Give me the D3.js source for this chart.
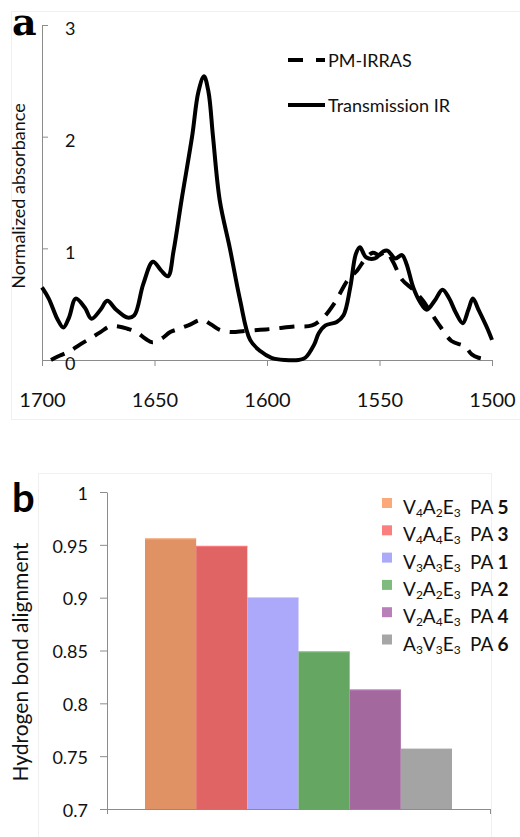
<!DOCTYPE html>
<html>
<head>
<meta charset="utf-8">
<script src="https://cdn.jsdelivr.net/npm/d3@7"></script>
<style>
  body { margin: 0; background: #fff; }
  svg { display: block; }
</style>
</head>
<body>
<div id="chart"></div>
<script>
// panel a: spectra (wavenumber, normalized absorbance)
const transmissionIR = [
  [1700, 0.65], [1697, 0.55], [1693, 0.36], [1690.5, 0.29], [1688, 0.38], [1685, 0.55],
  [1681, 0.47], [1678, 0.37], [1674, 0.45], [1671, 0.53], [1667, 0.45], [1662, 0.38],
  [1659, 0.40], [1655, 0.68], [1650.7, 0.88], [1647, 0.80], [1644, 0.75], [1641.5, 0.98],
  [1638, 1.43], [1633.3, 2.0], [1630.5, 2.4], [1628, 2.54], [1626, 2.4], [1624, 2.0],
  [1621, 1.43], [1616.5, 1.0], [1612, 0.54], [1607.5, 0.18], [1603, 0.08], [1598, 0.02],
  [1592, 0.0], [1586, 0.0], [1583, 0.02], [1579, 0.14], [1577, 0.24], [1574, 0.31],
  [1569, 0.34], [1566, 0.40], [1563, 0.65], [1560.5, 0.95], [1558.7, 1.01], [1556, 0.92],
  [1552, 0.91], [1548.5, 0.97], [1546.5, 0.98], [1543, 0.91], [1540, 0.94], [1538, 0.86],
  [1535, 0.65], [1532, 0.52], [1529, 0.45], [1525.5, 0.53], [1522, 0.63], [1519, 0.55],
  [1516, 0.42], [1513, 0.33], [1510.5, 0.45], [1508.5, 0.55], [1506, 0.45], [1502, 0.28],
  [1500, 0.18]
];
const pmIRRAS = [
  [1696, 0.0], [1692, 0.04], [1687.5, 0.08], [1683, 0.14], [1678, 0.2], [1674, 0.25],
  [1670, 0.3], [1666, 0.30], [1662, 0.28], [1658, 0.25], [1654, 0.19], [1651, 0.16],
  [1647, 0.19], [1643, 0.25], [1639, 0.28], [1635, 0.31], [1629, 0.36], [1625, 0.32],
  [1621, 0.27], [1616, 0.25], [1610, 0.26], [1603, 0.27], [1597, 0.28], [1588, 0.30],
  [1580, 0.31], [1575, 0.38], [1570, 0.51], [1564, 0.72], [1560, 0.80], [1556.5, 0.9],
  [1553, 0.96], [1550, 0.94], [1547, 0.97], [1544, 0.88], [1540, 0.72], [1535, 0.63],
  [1531, 0.54], [1527, 0.42], [1523, 0.30], [1518, 0.17], [1512, 0.12], [1509, 0.05],
  [1506, 0.02], [1503, 0.01], [1501, 0.02]
];
const xTicksA = [1700, 1650, 1600, 1550, 1500];
const yTicksA = [0, 1, 2, 3];

// panel b: hydrogen bond alignment
const peptides = [
  { seq: [["V", "4"], ["A", "2"], ["E", "3"]], pa: "5" },
  { seq: [["V", "4"], ["A", "4"], ["E", "3"]], pa: "3" },
  { seq: [["V", "3"], ["A", "3"], ["E", "3"]], pa: "1" },
  { seq: [["V", "2"], ["A", "2"], ["E", "3"]], pa: "2" },
  { seq: [["V", "2"], ["A", "4"], ["E", "3"]], pa: "4" },
  { seq: [["A", "3"], ["V", "3"], ["E", "3"]], pa: "6" }
];
const alignment = [0.956, 0.949, 0.900, 0.849, 0.813, 0.757];
const barColors = ["#e19264", "#e16464", "#aca8fa", "#64a662", "#a3689e", "#a4a4a4"];
const swatchColors = ["#fba97a", "#fb7f7f", "#aaaaf8", "#7fbb7f", "#b87fb8", "#a6a6a6"];
const yTicksB = [0.7, 0.75, 0.8, 0.85, 0.9, 0.95, 1];

const W = 520, H = 837;
const font = "Lato, 'Open Sans', sans-serif";
const axisGray = "#8c8c8c";

const svg = d3.select("#chart").append("svg")
  .attr("width", W)
  .attr("height", H);

// faint panel frames
svg.append("rect")
  .attr("x", 11.5).attr("y", 11.5).attr("width", 530).attr("height", 408)
  .attr("fill", "none").attr("stroke", "#f0f0f0");
svg.append("rect")
  .attr("x", 38.5).attr("y", 473.5).attr("width", 453).attr("height", 400)
  .attr("fill", "none").attr("stroke", "#f0f0f0");

// ---------- panel a ----------
const xA = d3.scaleLinear().domain([1700, 1500]).range([42, 492]);
const yA = d3.scaleLinear().domain([0, 3]).range([360, 25]);

const gA = svg.append("g");

const xAxisA = gA.append("g")
  .attr("transform", `translate(0,${yA(0)})`)
  .call(d3.axisBottom(xA).tickValues(xTicksA).tickSize(6).tickSizeOuter(0).tickFormat(d3.format("d")));
xAxisA.selectAll("text")
  .attr("y", 47).attr("dy", 0)
  .attr("font-size", "20px").attr("font-family", font).attr("fill", "#111");

const yAxisA = gA.append("g")
  .attr("transform", `translate(${xA(1700)},0)`)
  .call(d3.axisRight(yA).tickValues(yTicksA).tickSize(6).tickSizeOuter(0).tickPadding(17).tickFormat(d3.format("d")));
yAxisA.selectAll("text")
  .attr("dy", "0.55em")
  .attr("font-size", "18px").attr("font-family", font).attr("fill", "#111");

[xAxisA, yAxisA].forEach(ax => {
  ax.select(".domain").attr("stroke", axisGray);
  ax.selectAll(".tick line").attr("stroke", axisGray);
});

const lineA = d3.line()
  .x(d => xA(d[0]))
  .y(d => yA(d[1]))
  .curve(d3.curveCatmullRom.alpha(0.5));

gA.append("path")
  .datum(pmIRRAS)
  .attr("d", lineA)
  .attr("fill", "none")
  .attr("stroke", "#000")
  .attr("stroke-width", 4)
  .attr("stroke-dasharray", "15 10");

gA.append("path")
  .datum(transmissionIR)
  .attr("d", lineA)
  .attr("fill", "none")
  .attr("stroke", "#000")
  .attr("stroke-width", 4)
  .attr("stroke-linejoin", "round");

gA.append("text")
  .attr("transform", "translate(25,196) rotate(-90)")
  .attr("text-anchor", "middle")
  .attr("font-size", "18px").attr("font-family", font).attr("fill", "#111")
  .text("Normalized absorbance");

gA.append("text")
  .attr("x", 12).attr("y", 35)
  .attr("font-size", "38px").attr("font-weight", "bold")
  .attr("font-family", "'DejaVu Serif', serif")
  .text("a");

// legend a
const legA = gA.append("g").attr("transform", "translate(288,0)");
[["PM-IRRAS", "15 13", 60], ["Transmission IR", null, 105]].forEach(([label, dash, y]) => {
  legA.append("line")
    .attr("x1", 0).attr("x2", 37).attr("y1", y).attr("y2", y)
    .attr("stroke", "#000").attr("stroke-width", 4)
    .attr("stroke-dasharray", dash);
  legA.append("text")
    .attr("x", 40).attr("y", y + 7)
    .attr("font-size", "18px").attr("font-family", font).attr("fill", "#111")
    .text(label);
});

// ---------- panel b ----------
const yB = d3.scaleLinear().domain([0.7, 1]).range([809, 492]);
const plotL = 107, plotR = 490;
const xB = d3.scaleBand()
  .domain(d3.range(alignment.length))
  .range([plotL + 38, plotR - 38])
  .padding(0);

const gB = svg.append("g");

gB.selectAll("rect.bar")
  .data(alignment)
  .enter()
  .append("rect")
  .attr("class", "bar")
  .attr("x", (d, i) => xB(i))
  .attr("width", xB.bandwidth())
  .attr("y", d => yB(d))
  .attr("height", d => yB(0.7) - yB(d))
  .attr("fill", (d, i) => barColors[i]);

// thin lighter rim on top of each bar
gB.selectAll("line.rim")
  .data(alignment)
  .enter()
  .append("line")
  .attr("x1", (d, i) => xB(i))
  .attr("x2", (d, i) => xB(i) + xB.bandwidth())
  .attr("y1", d => yB(d) + 0.5)
  .attr("y2", d => yB(d) + 0.5)
  .attr("stroke", (d, i) => swatchColors[i])
  .attr("stroke-width", 1);

const yAxisB = gB.append("g")
  .attr("transform", `translate(${plotL},0)`)
  .call(d3.axisLeft(yB).tickValues(yTicksB).tickSize(7).tickSizeOuter(0).tickPadding(12).tickFormat(d => String(d)));
yAxisB.selectAll("text")
  .attr("dy", "0.4em")
  .attr("font-size", "18px").attr("font-family", font).attr("fill", "#111");

const xAxisB = gB.append("g")
  .attr("transform", `translate(0,${yB(0.7)})`)
  .call(d3.axisBottom(d3.scaleLinear().domain([0, 1]).range([plotL, plotR])).tickValues([0, 1]).tickSize(5).tickSizeOuter(0).tickFormat(""));

[xAxisB, yAxisB].forEach(ax => {
  ax.select(".domain").attr("stroke", axisGray);
  ax.selectAll(".tick line").attr("stroke", axisGray);
});

gB.append("text")
  .attr("transform", "translate(28,662) rotate(-90)")
  .attr("text-anchor", "middle")
  .attr("font-size", "21px").attr("font-family", font).attr("fill", "#111")
  .text("Hydrogen bond alignment");

gB.append("text")
  .attr("x", 12).attr("y", 512)
  .attr("font-size", "40px").attr("font-weight", "bold")
  .attr("font-family", font)
  .text("b");

// legend b
const legB = gB.append("g").attr("transform", "translate(382,0)");
peptides.forEach((p, i) => {
  const y = 503 + i * 27.3;
  legB.append("rect")
    .attr("x", 0).attr("y", y - 5).attr("width", 10).attr("height", 10)
    .attr("fill", swatchColors[i]);
  const t = legB.append("text")
    .attr("x", 21).attr("y", y + 11)
    .attr("font-size", "19px").attr("font-family", font).attr("fill", "#111");
  p.seq.forEach(([res, n], k) => {
    t.append("tspan").attr("dy", k === 0 ? 0 : -3).text(res);
    t.append("tspan").attr("font-size", "12px").attr("dy", 3).text(n);
  });
  legB.append("text")
    .attr("x", 88).attr("y", y + 11)
    .attr("font-size", "19px").attr("font-family", font).attr("fill", "#111")
    .text("PA ")
    .append("tspan").attr("font-weight", "bold").text(p.pa);
});
</script>
</body>
</html>
